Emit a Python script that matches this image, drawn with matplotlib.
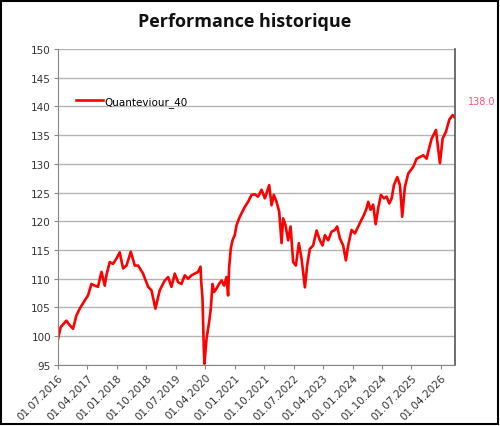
import matplotlib
matplotlib.use("Agg")
import matplotlib.pyplot as plt
import matplotlib.dates as mdates
from matplotlib.patches import Rectangle
import pandas as pd

dates = [
    "2016-07-01", "2016-07-26", "2016-09-17", "2016-10-18", "2016-11-18", "2016-12-19",
    "2017-01-19", "2017-03-06", "2017-04-06", "2017-05-08", "2017-06-08", "2017-07-08",
    "2017-08-09", "2017-09-09", "2017-09-24", "2017-10-25", "2017-11-25", "2017-12-26",
    "2018-01-26", "2018-02-26", "2018-03-30", "2018-05-09", "2018-06-15", "2018-07-16",
    "2018-08-31", "2018-10-17", "2018-11-17", "2018-12-24", "2019-02-02", "2019-03-21",
    "2019-04-21", "2019-05-22", "2019-06-22", "2019-07-23", "2019-08-23", "2019-09-23",
    "2019-10-24", "2019-11-24", "2019-12-25", "2020-01-25", "2020-02-16", "2020-02-22",
    "2020-03-06", "2020-03-18", "2020-03-24", "2020-04-12", "2020-05-06", "2020-05-22",
    "2020-06-07", "2020-06-22", "2020-07-14", "2020-08-07", "2020-08-30", "2020-09-23",
    "2020-10-15", "2020-10-30", "2020-11-08", "2020-11-24", "2020-12-10", "2020-12-31",
    "2021-01-16", "2021-02-09", "2021-03-04", "2021-04-03", "2021-05-04", "2021-06-05",
    "2021-07-05", "2021-08-05", "2021-09-06", "2021-10-07", "2021-11-16", "2021-12-08",
    "2021-12-29", "2022-01-23", "2022-02-17", "2022-03-11", "2022-03-26", "2022-04-17",
    "2022-05-11", "2022-06-03", "2022-06-27", "2022-07-22", "2022-08-19", "2022-09-13",
    "2022-10-14", "2022-11-04", "2022-11-29", "2022-12-30", "2023-01-31", "2023-03-02",
    "2023-03-27", "2023-04-18", "2023-05-19", "2023-06-19", "2023-07-20", "2023-08-10",
    "2023-09-05", "2023-10-05", "2023-10-30", "2023-11-21", "2023-12-22", "2024-01-22",
    "2024-02-22", "2024-03-24", "2024-04-15", "2024-05-10", "2024-05-25", "2024-06-16",
    "2024-07-10", "2024-08-02", "2024-08-26", "2024-09-20", "2024-10-18", "2024-11-12",
    "2024-12-06", "2024-12-29", "2025-01-19", "2025-02-19", "2025-03-16", "2025-04-06",
    "2025-05-01", "2025-06-01", "2025-07-18", "2025-08-18", "2025-09-18", "2025-10-19",
    "2025-11-19", "2025-12-04", "2026-01-05", "2026-02-14", "2026-03-02", "2026-03-23",
    "2026-04-17", "2026-05-18", "2026-06-18", "2026-07-19", "2026-08-10",
]
values = [
    99.5, 101.6, 102.7, 101.9, 101.3, 103.6,
    104.8, 106.2, 107.1, 109.1, 108.8, 108.6,
    111.2, 108.8, 110.6, 112.9, 112.6, 113.5,
    114.6, 111.8, 112.3, 114.7, 112.3, 112.3,
    110.9, 108.6, 108.0, 104.8, 108.0, 109.7,
    110.3, 108.6, 110.9, 109.4, 109.1, 110.6,
    110.0, 110.6, 110.9, 111.2, 112.1, 109.7,
    106.5, 97.8, 95.2, 99.5, 102.4, 104.8,
    109.1, 107.7, 108.3, 109.1, 109.7, 108.8,
    110.3, 107.1, 111.8, 115.3, 116.7, 117.6,
    119.3, 120.5, 121.4, 122.5, 123.4, 124.6,
    124.7, 124.3, 125.5, 124.0, 126.3, 122.8,
    124.6, 123.4, 121.7, 116.2, 120.5, 119.3,
    116.7, 119.1, 112.9, 112.3, 116.2, 113.5,
    108.5, 112.3, 115.2, 115.8, 118.4, 116.7,
    115.8, 117.6, 116.7, 118.2, 118.5, 119.1,
    117.0, 115.8, 113.2, 115.8, 118.5, 117.9,
    119.1, 120.3, 121.1, 122.3, 123.4, 122.0,
    122.9, 119.5, 122.3, 124.6, 124.0, 124.3,
    123.1, 124.0, 126.3, 127.7, 126.3, 120.8,
    126.0, 128.3, 129.5, 130.9, 131.2, 131.5,
    130.9, 132.1, 134.4, 135.9, 133.3, 130.1,
    134.4, 135.6, 137.7, 138.5, 138.0,
]
series_name = "Quanteviour_40"
title = "Performance historique"
tick_dates = ["2016-07-01", "2017-04-01", "2018-01-01", "2018-10-01", "2019-07-01",
              "2020-04-01", "2021-01-01", "2021-10-01", "2022-07-01", "2023-04-01",
              "2024-01-01", "2024-10-01", "2025-07-01", "2026-04-01"]
y_ticks = [95, 100, 105, 110, 115, 120, 125, 130, 135, 140, 145, 150]
last_label = "138.0"

x = pd.to_datetime(dates)
xt = pd.to_datetime(tick_dates)

fig = plt.figure(figsize=(5.0, 4.27), dpi=100)
ax = fig.add_axes([0.116, 0.143, 0.794, 0.74])

ax.plot(x, values, color="#FF0000", lw=1.9, label=series_name, solid_joinstyle="round")

ax.set_ylim(95, 150)
ax.set_yticks(y_ticks)
ax.set_xlim(x[0], x[-1])
ax.set_xticks(xt)
ax.xaxis.set_major_formatter(mdates.DateFormatter("%d.%m.%Y"))
ax.grid(axis="y", color="#B4B4B4", lw=1.0)
ax.set_axisbelow(True)
for lab in ax.get_xticklabels():
    lab.set_rotation(45)
    lab.set_ha("right")
    lab.set_rotation_mode("anchor")
ax.tick_params(axis="both", labelsize=7.5, colors="#333333", length=3, width=0.8,
               direction="out", pad=2)
ax.tick_params(axis="both", color="#888888")
for s in ["left", "bottom"]:
    ax.spines[s].set_color("#888888")
ax.spines["right"].set_color("#555555")
ax.spines["right"].set_linewidth(1.2)
ax.spines["top"].set_visible(False)

leg = ax.legend(loc="upper left", bbox_to_anchor=(0.035, 0.865), frameon=False,
                fontsize=7.5, handlelength=2.6, handletextpad=0.15, borderaxespad=0)

ax.annotate(last_label, xy=(x[-1], values[-1]), xytext=(9, 12),
            textcoords="offset points", color="#FF5070", fontsize=7, va="center")

fig.text(0.49, 0.948, title, ha="center", va="center", fontsize=13,
         fontweight="bold", family="Open Sans", color="#111111")

fig.patches.append(Rectangle((0.002, 0.004), 0.993, 0.992, transform=fig.transFigure,
                             fill=False, edgecolor="black", lw=1.5))

fig.savefig("out.png", dpi=100)
